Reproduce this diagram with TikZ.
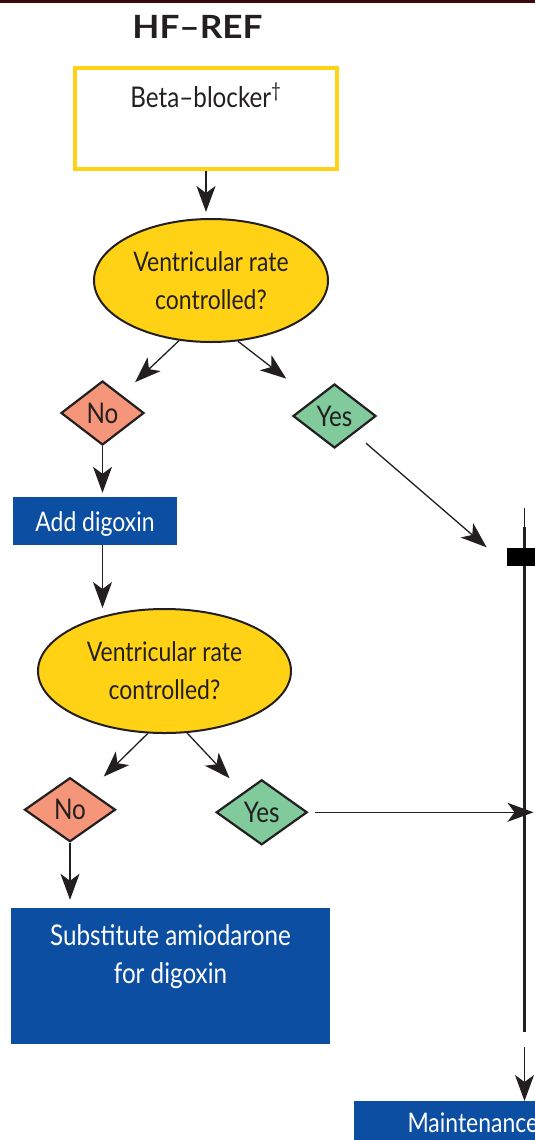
\documentclass[tikz,border=0pt]{standalone}
\usepackage{fontspec}
\setmainfont{Lato}[FakeStretch=0.85]
\newfontfamily\titlefont{Lato}[FakeStretch=1.1]
\usetikzlibrary{shapes.geometric,arrows.meta}

\definecolor{hfyellow}{RGB}{255,210,22}
\definecolor{hfblue}{RGB}{12,78,162}
\definecolor{hfno}{RGB}{245,150,122}
\definecolor{hfyes}{RGB}{128,202,155}
\definecolor{hfink}{RGB}{35,31,32}
\definecolor{hfrule}{RGB}{60,10,12}

\begin{document}
\begin{tikzpicture}[x=1pt, y=-1pt, font=\fontsize{27}{38}\selectfont, text=hfink,
    >={Stealth[length=26pt, width=19pt, inset=7pt]},
    arr/.style = {->, draw=hfink, line width=1.3pt},
    firstbox/.style = {draw=hfyellow, line width=3.5pt, minimum width=262pt, inner sep=0pt, text height=39pt, text depth=62pt},
    ask/.style = {ellipse, draw=hfink, fill=hfyellow, line width=2pt, inner sep=0pt, align=center},
    nodia/.style = {diamond, draw=hfink, fill=hfno, line width=2.2pt, inner sep=0pt, font=\fontsize{28.5}{38}\selectfont},
    yesdia/.style = {nodia, fill=hfyes},
    act/.style = {fill=hfblue, text=white, inner sep=0pt}]
  \useasboundingbox (0,0) rectangle (535,1140);
  \clip (0,0) rectangle (535,1140);

  % header
  \draw[hfrule, line width=3pt] (0,1.5) -- (535,1.5);
  \node (title) at (197.5,26.5) {\titlefont\bfseries\fontsize{32}{32}\selectfont HF–REF};

  % left column
  \node[firstbox, minimum height=101pt] (beta) at (206,118.5) {\fontsize{28.5}{38}\selectfont Beta–blocker\textsuperscript{†}};
  \node[ask, minimum width=234pt, minimum height=123pt] (q1) at (211,280.5) {Ventricular rate\\controlled?};
  \node[nodia, minimum width=83pt, minimum height=64pt] (no1) at (102.5,413) {No};
  \node[yesdia, minimum width=83pt, minimum height=64pt] (yes1) at (334.5,416) {Yes};
  \node[act, minimum width=164pt, minimum height=48pt, text height=20pt, text depth=0pt] (dig) at (95,521) {Add digoxin};
  \node[ask, minimum width=253pt, minimum height=124pt] (q2) at (164.5,671) {Ventricular rate\\controlled?};
  \node[nodia, minimum width=91pt, minimum height=64pt] (no2) at (70,809.7) {No};
  \node[yesdia, minimum width=91pt, minimum height=65pt] (yes2) at (261.7,812.3) {Yes};
  \node[act, minimum width=319pt, align=center, text height=76pt, text depth=60pt, font=\fontsize{28.5}{38}\selectfont] (sub) at (170.5,975.5) {Substitute amiodarone\\for digoxin};

  % right column
  \coordinate (vtop) at (524.5,508);
  \coordinate (vmid) at (524.5,527);
  \coordinate (vbot) at (524.5,1032);
  \coordinate (j1) at (524.5,580);
  \coordinate (gap) at (524.5,1047);
  \draw[hfink, line width=1.5pt] (vtop) -- (vmid);
  \draw[hfink, line width=2.8pt] (vmid) -- (vbot);
  \node[fill=black, minimum width=28pt, minimum height=18pt, inner sep=0pt] (bar) at (521,557) {};
  \node[act, anchor=north west, inner xsep=54pt, text height=31pt, text depth=40pt] (maint) at (353.3,1101) {Maintenance};

  \draw[arr, shorten >=6pt] (beta.south) -- (beta.south |- q1.north);
  \draw[arr, shorten >=18.5pt] (q1.242) -- (no1);
  \draw[arr, shorten >=34pt] (q1.294) -- (yes1);
  \draw[arr, shorten >=4pt] (no1.south) -- (no1.south |- dig.north);
  \draw[arr] (no1.south |- dig.south) -- (no1.south |- q2.north);
  \draw[arr, shorten <=15pt, shorten >=50pt] (yes1) -- (j1);
  \draw[arr, shorten >=20pt] (q2.255) -- (no2);
  \draw[arr, shorten >=19.4pt] (q2.290) -- (yes2);
  \draw[arr, shorten >=7.5pt] (no2.south) -- (no2.south |- sub.north);
  \draw[arr, shorten <=7pt, shorten >=-9pt] (yes2.east) -- (yes2.east -| vtop);
  \draw[arr] (gap) -- (gap |- maint.north);
\end{tikzpicture}
\end{document}
